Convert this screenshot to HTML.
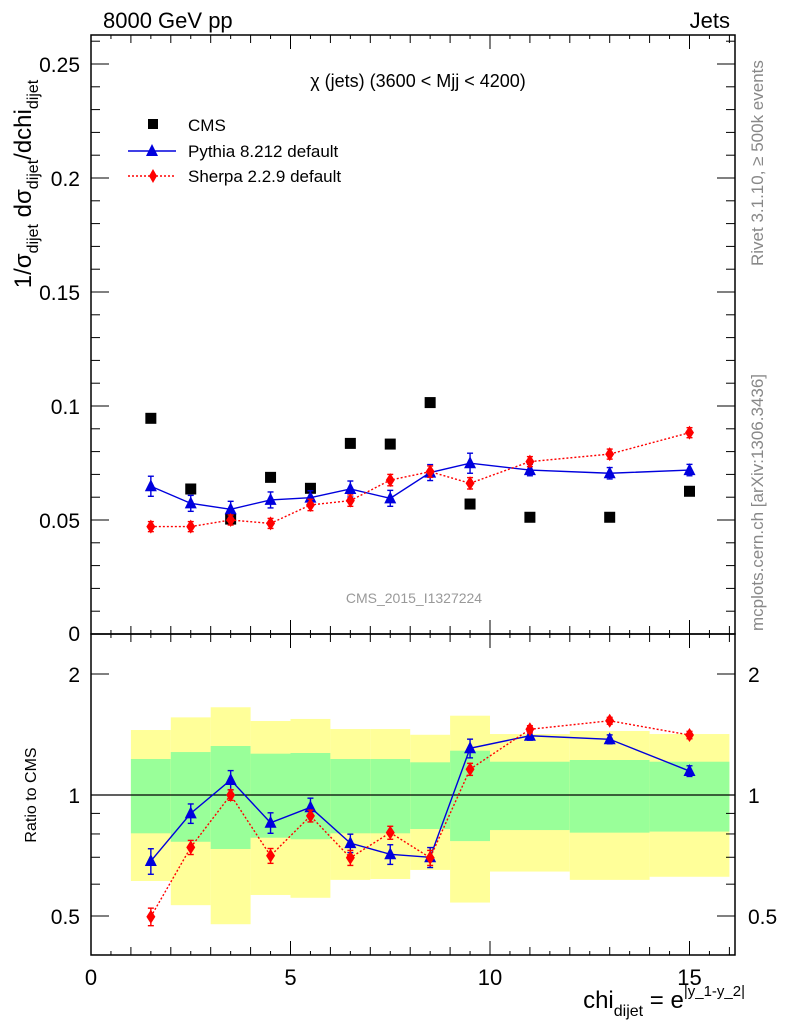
<!DOCTYPE html>
<html><head><meta charset="utf-8"><style>
body{margin:0;background:#fff;}
svg{display:block;font-family:"Liberation Sans",sans-serif;}
</style></head><body>
<svg id="c" width="786" height="1024" viewBox="0 0 786 1024" xmlns="http://www.w3.org/2000/svg"></svg>
<script>
const xCenters=[1.5,2.5,3.5,4.5,5.5,6.5,7.5,8.5,9.5,11,13,15];
const binEdges=[1,2,3,4,5,6,7,8,9,10,12,14,16];
const cmsValues=[0.0946,0.0636,0.0504,0.0687,0.0639,0.0836,0.0833,0.1015,0.0570,0.0512,0.0512,0.0626];
const pythiaValues=[0.0648,0.0573,0.0547,0.0588,0.0598,0.0636,0.0595,0.0708,0.0749,0.0719,0.0705,0.0719];
const pythiaErrors=[0.0044,0.0035,0.0035,0.0035,0.003,0.0035,0.0035,0.0035,0.0044,0.0025,0.0025,0.0025];
const sherpaValues=[0.0471,0.0471,0.0500,0.0485,0.0566,0.0585,0.0675,0.0712,0.0661,0.0756,0.0789,0.0883];
const sherpaErrors=[0.0022,0.0022,0.0022,0.0022,0.0025,0.0025,0.0025,0.0025,0.0025,0.0022,0.0022,0.0022];
const pythiaRatio=[0.685,0.90,1.09,0.853,0.932,0.759,0.712,0.70,1.307,1.404,1.376,1.147];
const pythiaRatioErr=[0.05,0.05,0.06,0.05,0.05,0.04,0.04,0.04,0.07,0.035,0.035,0.035];
const sherpaRatio=[0.498,0.741,1.0,0.706,0.887,0.698,0.806,0.698,1.159,1.457,1.53,1.41];
const sherpaRatioErr=[0.025,0.03,0.03,0.03,0.03,0.03,0.03,0.03,0.04,0.03,0.03,0.03];
const yellowTop=[1.451,1.560,1.653,1.528,1.546,1.459,1.459,1.412,1.575,1.418,1.443,1.418];
const yellowBot=[0.611,0.532,0.477,0.564,0.555,0.615,0.618,0.651,0.540,0.645,0.615,0.626];
const greenTop=[1.229,1.279,1.324,1.267,1.272,1.229,1.229,1.206,1.289,1.210,1.222,1.210];
const greenBot=[0.803,0.765,0.734,0.783,0.776,0.803,0.803,0.823,0.768,0.818,0.806,0.811];
const xTickLabels=[0,5,10,15];
const yTickLabels=[0.05,0.1,0.15,0.2,0.25];
const rTickLabels=[0.5,1,2];

const L=91,R=735,T=35,M=634,B=955;
const X=v=>L+v*39.9;
const Y=v=>M-v*2280;
const RY=r=>795-121*Math.log2(r);
const svg=document.getElementById('c');
const NS='http://www.w3.org/2000/svg';
function mk(tag,attrs,parent){const e=document.createElementNS(NS,tag);for(const k in attrs)e.setAttribute(k,attrs[k]);(parent||svg).appendChild(e);return e;}
function txt(s,x,y,size,anchor,fill,parent){const t=mk('text',{x:x,y:y,'font-size':size,'text-anchor':anchor||'start',fill:fill||'#000'},parent);t.textContent=s;return t;}

const bands=mk('g',{});


for(let i=0;i<xCenters.length;i++){
  const x0=X(binEdges[i]),x1=X(binEdges[i+1]);
  const y=mk('rect',{x:x0,y:RY(yellowTop[i]),width:x1-x0,height:RY(yellowBot[i])-RY(yellowTop[i]),fill:'#ffff99'},bands);
  
  
  const g=mk('rect',{x:x0,y:RY(greenTop[i]),width:x1-x0,height:RY(greenBot[i])-RY(greenTop[i]),fill:'#99ff99'},bands);
  
  
}
mk('line',{x1:L,x2:R,y1:RY(1),y2:RY(1),stroke:'#000','stroke-width':1.3});

for(const [y0,y1,nm] of [[T,M,'main-panel-frame'],[M,B,'ratio-panel-frame']]){
  const f=mk('rect',{x:L,y:y0,width:R-L,height:y1-y0,fill:'none',stroke:'#000','stroke-width':1.5});
  
  
}
for(let v=0;v<=16;v+=0.5){
  const len=(v%5===0)?14:(v%1===0?8:4);
  const x=X(v);
  for(const [yb,dir] of [[M,-1],[T,1],[B,-1],[M,1]]){
    mk('line',{x1:x,x2:x,y1:yb,y2:yb+dir*len,stroke:'#000','stroke-width':1});
  }
}
xTickLabels.forEach(v=>{const t=txt(String(v),X(v),985,22,'middle');});
for(let k=0;k<=26;k++){
  const v=k*0.01;const y=Y(v);const len=(k%5===0)?18:9;
  mk('line',{x1:L,x2:L+len,y1:y,y2:y,stroke:'#000'});
  mk('line',{x1:R,x2:R-len,y1:y,y2:y,stroke:'#000'});
}
txt('0',80,641,21,'end');
yTickLabels.forEach(v=>{const t=txt(String(v),80,Y(v)+8,21,'end');});
[0.4,0.5,0.6,0.7,0.8,0.9,1,2].forEach(r=>{const y=RY(r);if(y>B||y<M)return;const len=(r===0.5||r===1||r===2)?18:9;
  mk('line',{x1:L,x2:L+len,y1:y,y2:y,stroke:'#000'});mk('line',{x1:R,x2:R-len,y1:y,y2:y,stroke:'#000'});});
rTickLabels.forEach(r=>{const t=txt(String(r),80,RY(r)+8,21,'end');
  txt(String(r),748,RY(r)+8,21,'start');});

function series(vals,errs,yf,color,dash,marker,name){
  const g=mk('g',{});
  
  
  const pts=vals.map((v,i)=>X(xCenters[i])+','+yf(v)).join(' ');
  mk('polyline',{points:pts,fill:'none',stroke:color,'stroke-width':1.4,'stroke-dasharray':dash||'none'},g);
  vals.forEach((v,i)=>{
    const x=X(xCenters[i]);const y=yf(v);
    if(errs){const y1=yf(v+errs[i]),y2=yf(v-errs[i]);
      mk('line',{x1:x,x2:x,y1:y1,y2:y2,stroke:color,'stroke-width':1.4},g);
      mk('line',{x1:x-3,x2:x+3,y1:y1,y2:y1,stroke:color,'stroke-width':1.4},g);
      mk('line',{x1:x-3,x2:x+3,y1:y2,y2:y2,stroke:color,'stroke-width':1.4},g);}
    let m;
    if(marker==='tri')m=mk('polygon',{points:`${x-6},${y+5} ${x+6},${y+5} ${x},${y-7}`,fill:color},g);
    else m=mk('polygon',{points:`${x},${y-7} ${x+4.5},${y} ${x},${y+7} ${x-4.5},${y}`,fill:color},g);
    
    
  });
}
const cg=mk('g',{});


cmsValues.forEach((v,i)=>{const s=mk('rect',{x:X(xCenters[i])-5.5,y:Y(v)-5.5,width:11,height:11,fill:'#000'},cg);
  
  });
series(pythiaValues,pythiaErrors,Y,'#0000dd',null,'tri','pythia-series');
series(sherpaValues,sherpaErrors,Y,'#ff0000','2,2','dia','sherpa-series');
series(pythiaRatio,pythiaRatioErr,RY,'#0000dd',null,'tri','pythia-ratio-series');
series(sherpaRatio,sherpaRatioErr,RY,'#ff0000','2,2','dia','sherpa-ratio-series');

txt('8000 GeV pp',103,28,22);
txt('Jets',730,28,22,'end');
txt('χ (jets) (3600 < Mjj < 4200)',418,87,18,'middle');
txt('CMS_2015_I1327224',414,603,14,'middle','#999');
const lg=mk('g',{});


mk('rect',{x:148,y:119,width:10,height:10,fill:'#000'},lg);
txt('CMS',188,131,17,'start','#000',lg);
mk('line',{x1:128,x2:176,y1:151,y2:151,stroke:'#0000dd','stroke-width':1.4},lg);
mk('polygon',{points:'146,156 158,156 152,144',fill:'#0000dd'},lg);
txt('Pythia 8.212 default',188,157,17,'start','#000',lg);
mk('line',{x1:128,x2:176,y1:176,y2:176,stroke:'#f00','stroke-width':1.4,'stroke-dasharray':'2,2'},lg);
mk('polygon',{points:'153,169 157,176 153,183 149,176',fill:'#f00'},lg);
txt('Sherpa 2.2.9 default',188,182,17,'start','#000',lg);
const yt=mk('text',{transform:'translate(31,184) rotate(-90)','font-size':24,'text-anchor':'middle'});
yt.innerHTML='1/σ<tspan font-size="16" dy="7">dijet</tspan><tspan dy="-7"> dσ</tspan><tspan font-size="16" dy="7">dijet</tspan><tspan dy="-7">/dchi</tspan><tspan font-size="16" dy="7">dijet</tspan>';


const rt=mk('text',{transform:'translate(36,795) rotate(-90)','font-size':16,'text-anchor':'middle'});
rt.textContent='Ratio to CMS';


const xt=mk('text',{x:745,y:1008,'font-size':24,'text-anchor':'end'});
xt.innerHTML='chi<tspan font-size="16" dy="8">dijet</tspan><tspan dy="-8"> = e</tspan><tspan font-size="15" dy="-12">|y_1-y_2|</tspan>';


const r1=mk('text',{transform:'translate(763,266) rotate(-90)','font-size':17,'text-anchor':'start',fill:'#888'});
r1.textContent='Rivet 3.1.10, ≥ 500k events';


const r2=mk('text',{transform:'translate(763,631) rotate(-90)','font-size':17,'text-anchor':'start',fill:'#888'});
r2.textContent='mcplots.cern.ch [arXiv:1306.3436]';


</script>
</body></html>
